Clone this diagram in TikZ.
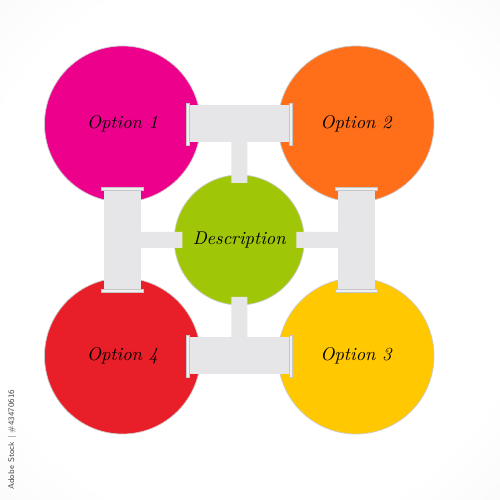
\documentclass[tikz,border=0pt]{standalone}
\usepackage{tikz}
\usetikzlibrary{calc}
\definecolor{optmagenta}{RGB}{236,0,140}
\definecolor{optorange}{RGB}{255,110,25}
\definecolor{optred}{RGB}{232,30,40}
\definecolor{optyellow}{RGB}{255,200,0}
\definecolor{descgreen}{RGB}{160,198,8}
\definecolor{barcolor}{RGB}{230,230,232}
\pgfdeclareradialshading{vignette}{\pgfpoint{0bp}{0bp}}{color(0bp)=(white); color(28bp)=(white); color(50bp)=(gray!10); color(72bp)=(gray!25)}

\begin{document}
\begin{tikzpicture}[
		option/.style={circle, draw=gray!40, line width=0.4pt, minimum size=3.12cm, inner sep=0pt, font=\fontsize{10.5}{12}\selectfont\itshape},
		desc/.style={option, minimum size=2.6cm},
		bar/.style={barcolor, line width=0.74cm, shorten >=1.3cm, shorten <=1.3cm},
		stem/.style={barcolor, line width=0.32cm, shorten >=1.14cm},
		barcap/.style={rectangle, draw=gray!45, fill=barcolor!60!white, line width=0.3pt, minimum width=0.06cm, minimum height=0.84cm, inner sep=0pt, sloped}
	]
				\useasboundingbox (0,0) rectangle (10,10);
				\shade[shading=vignette] (0,0) rectangle (10,10);
				\node[option, fill=optmagenta] (O1)at(2.45, 7.52) {Option 1};
				\node[option, fill=optorange] (O2)at(7.12, 7.52) {Option 2};
				\node[option, fill=optyellow] (O3)at(7.12, 2.88) {Option 3};
				\node[option, fill=optred] (O4)at(2.45, 2.88) {Option 4};
				\node[desc, fill=descgreen] (D)at(4.785, 5.2) {Description};
				\foreach \a/\b in {O1/O2, O2/O3, O4/O3, O1/O4}
					\draw[stem] ($(\a)!0.5!(\b)$) -- (D.center);
				\foreach \a/\b in {O1/O2, O2/O3, O4/O3, O1/O4}{
					\draw[bar] (\a.center) -- (\b.center);
					\path ($(\a)!1.3cm!(\b)$) -- ($(\b)!1.3cm!(\a)$) node[barcap, pos=0] {} node[barcap, pos=1] {};
				}
				\node[rotate=90, anchor=west, inner sep=0pt, text=gray!60!black, font=\sffamily\fontsize{4.8}{6}\selectfont] (stock)at(0.24, 0.2) {Adobe Stock | \#43470616};
			\end{tikzpicture}
\end{document}
